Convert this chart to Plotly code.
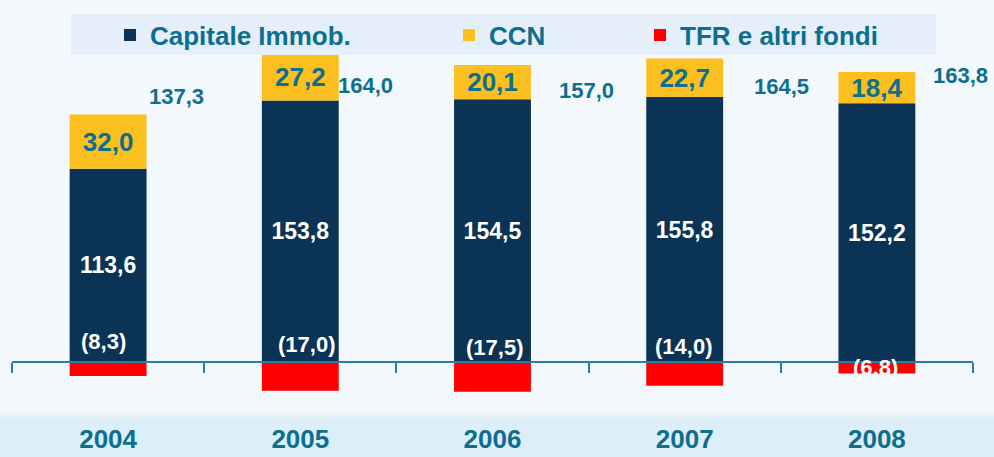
import plotly.graph_objects as go

years = ["2004", "2005", "2006", "2007", "2008"]
capitale = [113.6, 153.8, 154.5, 155.8, 152.2]
ccn = [32.0, 27.2, 20.1, 22.7, 18.4]
tfr = [-8.3, -17.0, -17.5, -14.0, -6.8]
totals = [137.3, 164.0, 157.0, 164.5, 163.8]

NAVY = "#0A3356"
YELLOW = "#FBC020"
RED = "#FF0000"
TEAL = "#0D6E8E"
BG = "#F3F8FD"
FONT = "Liberation Sans, Arial, sans-serif"


def it(v):
    return f"{abs(v):.1f}".replace(".", ",")


fig = go.Figure()
fig.add_trace(go.Bar(
    x=years, y=capitale, name="Capitale Immob.", marker=dict(color=NAVY, line=dict(width=0)),
    width=0.4, text=[it(v) for v in capitale], textposition="inside",
    insidetextanchor="middle", textangle=0, constraintext="none",
    textfont=dict(family=FONT, size=23, color="white", weight="bold"),
    legend="legend"))
fig.add_trace(go.Bar(
    x=years, y=ccn, name="CCN", marker=dict(color=YELLOW, line=dict(width=0)),
    width=0.4, text=[it(v) for v in ccn], textposition="inside",
    insidetextanchor="middle", textangle=0, constraintext="none",
    textfont=dict(family=FONT, size=26, color=TEAL, weight="bold"),
    legend="legend2"))
fig.add_trace(go.Bar(
    x=years, y=tfr, name="TFR e altri fondi", marker=dict(color=RED, line=dict(width=0)),
    width=0.4, legend="legend3"))

# total labels (hand-placed in the original)
tot_dx = [68, 65, 94, 97, 84]
tot_dy = [32, -2, 5, -4, 8]
for i, t in enumerate(totals):
    fig.add_annotation(x=i, y=t, xref="x", yref="y", text=it(t), showarrow=False,
                       xshift=tot_dx[i], yshift=tot_dy[i],
                       font=dict(family=FONT, size=22, color=TEAL, weight="bold"))

# negative labels
neg_dx = [-5, 6, 2, -1, -1]
neg_dy = [20, 17, 14, 15, -6]
for i, v in enumerate(tfr):
    fig.add_annotation(x=i, y=0, xref="x", yref="y", text=f"({it(v)})", showarrow=False,
                       xshift=neg_dx[i], yshift=neg_dy[i],
                       font=dict(family=FONT, size=22, color="white", weight="bold"))

W, H = 994, 457
ML, MR = 12, 21
PW = W - ML - MR
ymin, ymax = -55.9, 212.9


def px_x(p):
    return (p - ML) / PW


def px_y(p):
    return 1 - p / H


# bottom gradient band
steps = 12
for k in range(steps):
    y0 = 409 + k * 1.1
    f = (k + 1) / steps
    r = int(0xF3 + (0xDC - 0xF3) * f)
    g = int(0xF8 + (0xEE - 0xF8) * f)
    b = int(0xFD + (0xF8 - 0xFD) * f)
    fig.add_shape(type="rect", xref="paper", yref="paper", layer="below",
                  x0=px_x(0), x1=px_x(W), y0=px_y(H), y1=px_y(y0),
                  fillcolor=f"rgb({r},{g},{b})", line=dict(width=0))

# legend box
fig.add_shape(type="rect", xref="paper", yref="paper", layer="above",
              x0=px_x(71), x1=px_x(936), y0=px_y(55), y1=px_y(14),
              fillcolor="#E4EFF9", line=dict(width=0))

legfont = dict(family=FONT, size=26, color=TEAL, weight="bold")
common = dict(orientation="h", bgcolor="rgba(0,0,0,0)", font=legfont,
              yanchor="middle", y=px_y(35), xanchor="left")

fig.update_layout(
    width=W, height=H,
    margin=dict(l=ML, r=MR, t=0, b=0, autoexpand=False),
    paper_bgcolor=BG, plot_bgcolor="rgba(0,0,0,0)",
    barmode="relative", bargap=0.6,
    showlegend=True,
    legend=dict(x=px_x(110), **common),
    legend2=dict(x=px_x(449), **common),
    legend3=dict(x=px_x(640), **common),
    xaxis=dict(type="category", range=[-0.5, 4.5], tickson="boundaries",
               anchor="free", position=-ymin / (ymax - ymin), automargin=False,
               showline=True, linecolor="#2A7FA0", linewidth=2,
               ticks="outside", ticklen=10, tickwidth=2, tickcolor="#2A7FA0",
               ticklabelstandoff=54, showgrid=False, zeroline=False,
               tickfont=dict(family=FONT, size=26, color=TEAL, weight="bold")),
    yaxis=dict(range=[ymin, ymax], visible=False, showgrid=False, zeroline=False,
               automargin=False),
)

fig.write_html("out.html", config={"displayModeBar": False},
               post_script="document.body.style.margin='0';document.body.style.overflow='hidden';")
